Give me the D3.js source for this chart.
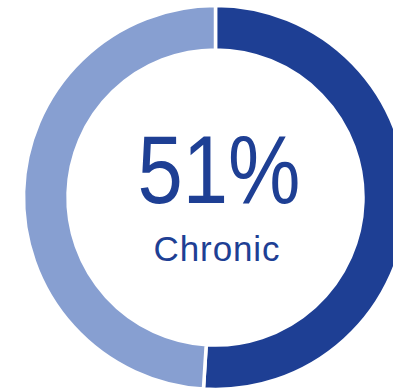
<!DOCTYPE html>
<html><head><meta charset="utf-8">
<script src="https://cdn.jsdelivr.net/npm/d3@7"></script>
<style>html,body{margin:0;padding:0;background:#fff;overflow:hidden}</style>
</head><body>
<svg id="c" width="393" height="392"></svg>
<script>
const categories = ["Chronic", "Other"];
const values = [51, 49];
const colors = ["#1E3F94", "#879FD1"];
const centerLabel = "51%";
const centerSub = "Chronic";

const svg = d3.select("#c");
const cx = 215.5, cy = 197.5, rOuter = 192, rInner = 147.5;
const g = svg.append("g").attr("transform", `translate(${cx},${cy})`);
const pie = d3.pie().sort(null).value(d => d.v);
const arc = d3.arc().innerRadius(rInner).outerRadius(rOuter);
const data = categories.map((c, i) => ({c, v: values[i]}));
g.selectAll("path").data(pie(data)).join("path")
  .attr("d", arc)
  .attr("fill", (d, i) => colors[i])
  .attr("stroke", "#fff").attr("stroke-width", 3.5);

g.append("text").text(centerLabel)
  .attr("transform", "translate(3.5,5) scale(0.84,1)")
  .attr("text-anchor", "middle")
  .attr("font-family", "Liberation Sans, Arial, sans-serif")
  .attr("font-size", 97)
  .attr("fill", colors[0]);
g.append("text").text(centerSub)
  .attr("x", 1.5).attr("y", 63.5)
  .attr("text-anchor", "middle")
  .attr("font-family", "Liberation Sans, Arial, sans-serif")
  .attr("font-size", 35).attr("letter-spacing", 0.9)
  .attr("fill", colors[0]);
</script>
</body></html>
